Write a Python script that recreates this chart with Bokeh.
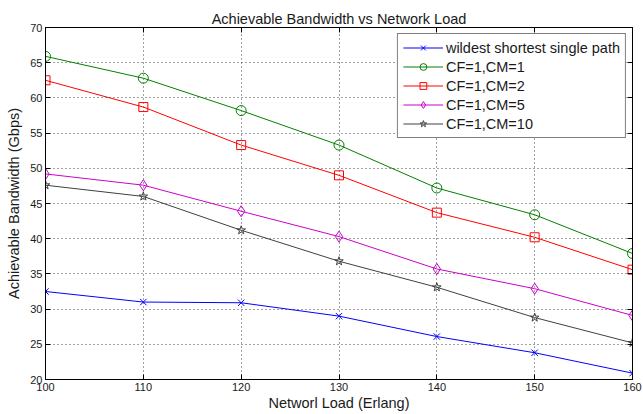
from bokeh.plotting import figure
from bokeh.models import LinearAxis, FixedTicker, Legend, LegendItem
from bokeh.embed import file_html
from bokeh.resources import INLINE

# ---- data ----
load = [100, 110, 120, 130, 140, 150, 160]
wildest = [32.5, 31.0, 30.9, 29.0, 26.1, 23.8, 20.9]
cm1 = [65.9, 62.8, 58.2, 53.3, 47.2, 43.4, 37.9]
cm2 = [62.5, 58.7, 53.3, 49.0, 43.7, 40.2, 35.6]
cm5 = [49.2, 47.6, 43.9, 40.3, 35.7, 32.9, 29.1]
cm10 = [47.6, 46.0, 41.2, 36.8, 33.1, 28.8, 25.2]
labels = ["wildest shortest single path", "CF=1,CM=1", "CF=1,CM=2", "CF=1,CM=5", "CF=1,CM=10"]
xticks = [100, 110, 120, 130, 140, 150, 160]
yticks = [20, 25, 30, 35, 40, 45, 50, 55, 60, 65, 70]

FONT = "Liberation Sans"
BIG = "14.5px"
TXT = "#1a1a1a"

p = figure(width=643, height=414, x_range=(100, 160), y_range=(20, 70),
           output_backend="svg", toolbar_location=None,
           min_border_left=45, min_border_right=11, min_border_top=27,
           min_border_bottom=35, background_fill_color="white",
           border_fill_color="white")

p.title.text = "Achievable Bandwidth vs Network Load"
p.title.align = "center"
p.title.text_font = FONT
p.title.text_font_size = BIG
p.title.text_font_style = "normal"
p.title.text_color = TXT
p.title.standoff = 1

p.outline_line_color = "black"
p.outline_line_width = 1

for ax in (p.xaxis[0], p.yaxis[0]):
    ax.major_tick_in = 5
    ax.major_tick_out = 0
    ax.minor_tick_line_color = None
    ax.axis_line_color = "black"
    ax.major_tick_line_color = "black"
    ax.major_label_text_font = FONT
    ax.major_label_text_font_size = "11px"
    ax.major_label_text_color = TXT
    ax.axis_label_text_font = FONT
    ax.axis_label_text_font_size = BIG
    ax.axis_label_text_font_style = "normal"
    ax.axis_label_text_color = TXT
    ax.major_label_standoff = 3

p.xaxis.axis_label_standoff = 1
p.yaxis.axis_label_standoff = 5
p.xaxis.ticker = FixedTicker(ticks=xticks)
p.yaxis.ticker = FixedTicker(ticks=yticks)
p.xaxis.axis_label = "Networl Load (Erlang)"
p.yaxis.axis_label = "Achievable Bandwidth (Gbps)"

for loc, tk in (("right", yticks), ("above", xticks)):
    ax = LinearAxis(ticker=FixedTicker(ticks=tk))
    ax.major_tick_in = 5
    ax.major_tick_out = 0
    ax.minor_tick_line_color = None
    ax.major_label_text_font_size = "1px"
    ax.major_label_text_color = None
    ax.major_label_standoff = 0
    ax.axis_line_color = "black"
    p.add_layout(ax, loc)

p.xgrid.ticker = FixedTicker(ticks=xticks)
p.ygrid.ticker = FixedTicker(ticks=yticks)
for g in (p.xgrid[0], p.ygrid[0]):
    g.grid_line_color = "black"
    g.grid_line_alpha = 0.75
    g.grid_line_dash = "1 3"
    g.grid_line_width = 1

series = [
    (wildest, "#0000ff", "x", 9),
    (cm1, "#008000", "circle", 10),
    (cm2, "#ff0000", "square", 9),
    (cm5, "#cc00cc", "diamond", 11),
    (cm10, "#404040", "star", 9),
]

items = []
for (vals, color, marker, size), lab in zip(series, labels):
    r1 = p.line(load, vals, line_color=color, line_width=1)
    r2 = p.scatter(load, vals, marker=marker, size=size, line_color=color,
                   fill_color=None, line_width=1)
    items.append(LegendItem(label=lab, renderers=[r1, r2]))

legend = Legend(items=items, location="top_right")
legend.margin = 6
legend.padding = 5
legend.spacing = 2
legend.glyph_height = 17
legend.glyph_width = 40
legend.label_height = 17
legend.label_standoff = 3
legend.label_text_font = FONT
legend.label_text_font_size = BIG
legend.label_text_color = TXT
legend.border_line_color = "black"
legend.border_line_width = 1
legend.background_fill_color = "white"
legend.background_fill_alpha = 1
p.add_layout(legend, "center")

open("out.html", "w").write(file_html(p, INLINE))
